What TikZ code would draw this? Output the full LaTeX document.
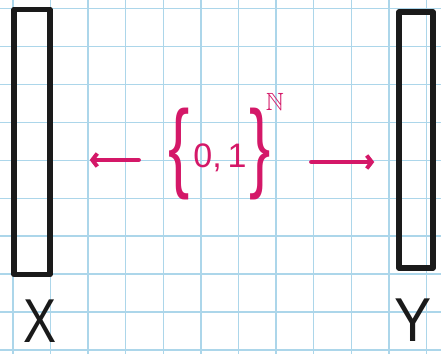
\documentclass[tikz,border=0pt]{standalone}
\usepackage{amsmath,amssymb}
\usepackage{fontspec}
\setmainfont{Liberation Sans}
\usetikzlibrary{arrows.meta}
\definecolor{gridblue}{RGB}{172,214,234}
\definecolor{inkblack}{RGB}{26,26,26}
\definecolor{ink}{RGB}{212,24,104}
\newcommand{\tallbrace}[1]{\raisebox{-12.5pt}{\fontsize{58}{58}\selectfont\scalebox{1.1}[1.7]{#1}}}
\begin{document}
\begin{tikzpicture}[x=1pt,y=-1pt,
  gridline/.style={draw=gridblue, line width=1.3pt},
  barbox/.style={rectangle, draw=inkblack, line width=5.5pt, line join=round, inner sep=0pt},
  letter/.style={text=inkblack, inner sep=0pt, font=\fontsize{62}{62}\selectfont},
  setlabel/.style={text=ink, inner sep=0pt, font=\fontsize{34}{40}\selectfont},
  conn/.style={draw=ink, line width=4pt, line cap=round, -{Straight Barb[length=5pt,width=13pt]}}]
\fill[white] (0,0) rectangle (441,354);
\useasboundingbox (0,0) rectangle (441,354);
% graph paper
\foreach \i in {0,...,11} \draw[gridline] ({12.9+37.6*\i},0) -- ({12.9+37.6*\i},354);
\foreach \j in {0,...,9} \draw[gridline] (0,{8.3+37.97*\j}) -- (441,{8.3+37.97*\j});
% bars
\node[barbox, minimum width=36pt, minimum height=265pt] (xbox) at (32,142) {};
\node[barbox, minimum width=34pt, minimum height=256pt] (ybox) at (416,140) {};
% labels
\node[letter] (xlab) at (40,321) {\scalebox{0.8}[1]{X}};
\node[letter] (ylab) at (413,320) {\scalebox{0.9}[1]{Y}};
% set
\node[setlabel, anchor=base] (set) at (226,167)
  {\tallbrace{\{}\hspace{4pt}0,\hspace{6pt}1\hspace{3pt}\tallbrace{\}}\hspace{-5pt}\raisebox{57pt}{\fontsize{24.88}{26}\selectfont$\mathbb{N}$}};
% arrows
\draw[conn, shorten <=29pt, shorten >=37pt] (set.west |- 0,160) -- (xbox.east |- 0,160);
\draw[conn, shorten <=27pt, shorten >=22pt] (set.east |- 0,162) -- (ybox.west |- 0,162);
\end{tikzpicture}
\end{document}
